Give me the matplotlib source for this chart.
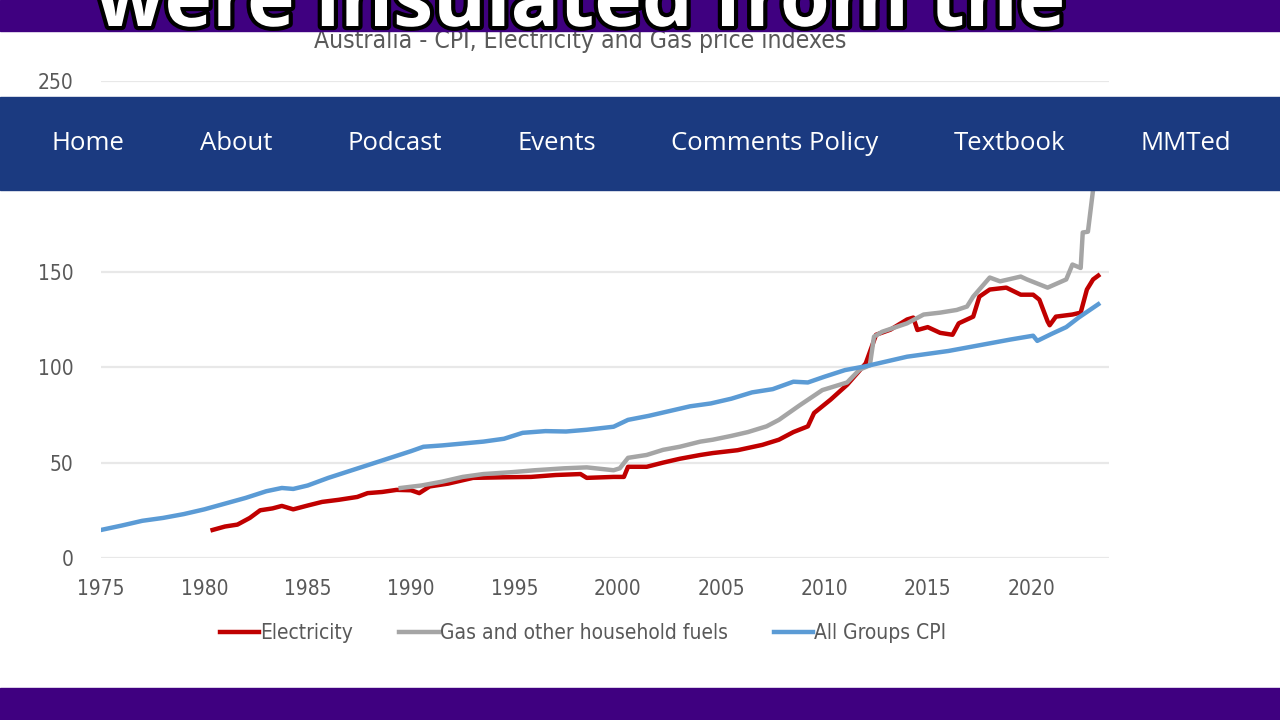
"""
Australia - CPI, Electricity and Gas price indexes (video frame recreation).
"""

import matplotlib
matplotlib.use("Agg")
import matplotlib.pyplot as plt
import matplotlib.patheffects as pe
from matplotlib.patches import Rectangle

# ── Data ────────────────────────────────────────────────────
cpi_years = [1975.0, 1976, 1977, 1978, 1979, 1980, 1981, 1982, 1983, 1983.75,
             1984.3, 1985, 1986, 1987, 1988, 1989, 1990, 1990.6, 1991.5, 1992.5,
             1993.5, 1994.5, 1995.4, 1996.5, 1997.5, 1998.5, 1999.8, 2000.5,
             2001.5, 2002.5, 2003.5, 2004.5, 2005.5, 2006.5, 2007.5, 2008.5,
             2009.2, 2010, 2011, 2012, 2013, 2014, 2015, 2016, 2017, 2018, 2019,
             2020.1, 2020.3, 2021, 2021.7, 2022.3, 2023.25]
cpi_values = [14.7, 17, 19.5, 21, 23, 25.5, 28.5, 31.5, 35, 36.7,
              36.2, 38, 42, 45.5, 49, 52.5, 56, 58.3, 59, 60,
              61, 62.5, 65.6, 66.5, 66.3, 67.2, 68.8, 72.4,
              74.5, 77, 79.5, 81, 83.5, 86.8, 88.5, 92.4,
              92, 95, 98.5, 100.5, 103, 105.5, 107, 108.5, 110.5, 112.5, 114.5,
              116.5, 113.8, 117.5, 121, 126, 133]

elec_years = [1980.4, 1981.0, 1981.6, 1982.2, 1982.7, 1983.3, 1983.75, 1984.3,
              1985, 1985.7, 1986.5, 1987.4, 1987.9, 1988.6, 1989.3, 1990.0,
              1990.4, 1990.9, 1991.8, 1993, 1994.5, 1995.8, 1997, 1998.2, 1998.5,
              1999.8, 2000.3, 2000.5, 2001.4, 2002.2, 2003, 2004, 2004.6, 2005.8,
              2007, 2007.8, 2008.5, 2009.2, 2009.5, 2010.3, 2011.1, 2011.6, 2012.0,
              2012.5, 2013.2, 2014.0, 2014.3, 2014.5, 2015.0, 2015.6, 2016.2,
              2016.5, 2017.2, 2017.5, 2018.0, 2018.8, 2019.5, 2020.1, 2020.4,
              2020.8, 2020.9, 2021.2, 2022.0, 2022.4, 2022.7, 2023.0, 2023.25]
elec_values = [14.7, 16.5, 17.5, 21, 25, 26, 27.3, 25.5,
               27.5, 29.4, 30.5, 32, 34, 34.6, 35.7, 35.5,
               34, 37.5, 39, 42, 42.3, 42.5, 43.5, 44, 42,
               42.5, 42.5, 47.8, 47.8, 50, 52, 54, 55, 56.5,
               59.3, 62, 66, 69, 76, 83, 90.8, 97, 102,
               117, 119.7, 125, 126, 119.5, 121, 118, 117,
               123, 126.5, 137, 140.7, 141.7, 138, 138, 135.4,
               124, 122, 126.5, 127.6, 128.6, 140.7, 146, 148]

gas_years = [1989.5, 1990.5, 1991.5, 1992.5, 1993.5, 1994.9, 1996, 1997.4, 1998.5,
             1999.8, 2000.1, 2000.5, 2001.4, 2002.2, 2003, 2004, 2004.6, 2005.5,
             2006.3, 2007.2, 2007.8, 2008.8, 2009.9, 2011.1, 2011.7, 2012.2,
             2012.4, 2012.8, 2014.0, 2014.8, 2015.6, 2016.4, 2016.9, 2017.2,
             2018.0, 2018.5, 2019.5, 2019.8, 2020.8, 2021.7, 2022.0, 2022.4,
             2022.5, 2022.75, 2023.0, 2023.25]
gas_values = [36.7, 38, 40, 42.5, 44, 45, 46, 47, 47.5,
              46, 47, 52.5, 54, 56.7, 58.3, 61, 62, 64,
              66, 69, 72.4, 80, 88, 92, 98.7, 101,
              116, 118.6, 123, 127.6, 128.6, 130, 131.8, 137,
              147, 145, 147.5, 146, 141.7, 146, 153.8, 152,
              170.6, 171, 193, 215]

x_ticks = [1975, 1980, 1985, 1990, 1995, 2000, 2005, 2010, 2015, 2020]
y_ticks = [0, 50, 100, 150, 200, 250]

nav_items = ["Home", "About", "Podcast", "Events", "Comments Policy", "Textbook", "MMTed"]
nav_x = [88, 236, 395, 557, 775, 1010, 1186]

RED = "#C00000"
GREY = "#A5A5A5"
BLUE = "#5B9BD5"
TEXT = "#595959"
PURPLE = "#3F0080"
NAVY = "#1B3A80"
NARROW = {"family": "DejaVu Sans", "stretch": "condensed"}

W, H = 1280, 720

fig = plt.figure(figsize=(12.8, 7.2), dpi=100)
fig.patch.set_facecolor("white")

# ── Chart ──────────────────────────────────────────────────
ax = fig.add_axes([101 / W, 1 - 558 / H, (1109 - 101) / W, (558 - 81) / H])
ax.plot(elec_years, elec_values, color=RED, lw=3.2, label="Electricity",
        solid_joinstyle="round")
ax.plot(gas_years, gas_values, color=GREY, lw=3.2, label="Gas and other household fuels",
        solid_joinstyle="round")
ax.plot(cpi_years, cpi_values, color=BLUE, lw=3.2, label="All Groups CPI",
        solid_joinstyle="round")

ax.set_xlim(1975, 2023.77)
ax.set_ylim(0, 250)
ax.set_xticks(x_ticks)
ax.set_yticks(y_ticks)
ax.grid(axis="y", color="#E8E8E8", lw=1.6)
ax.set_axisbelow(True)
for s in ax.spines.values():
    s.set_visible(False)
ax.tick_params(length=0, colors=TEXT, labelsize=15)
ax.tick_params(axis="y", pad=20)
ax.tick_params(axis="x", pad=15)
for lab in ax.get_xticklabels() + ax.get_yticklabels():
    lab.set_family(NARROW["family"])
    lab.set_stretch(NARROW["stretch"])

fig.text(580 / W, 1 - 41 / H, "Australia - CPI, Electricity and Gas price indexes",
         ha="center", va="center", color=TEXT, fontsize=17.7, **NARROW)

fig.legend(loc="center", bbox_to_anchor=(583 / W, 1 - 633 / H), ncol=3,
           frameon=False, handlelength=1.9, handletextpad=0.05, columnspacing=2.2,
           prop={"family": NARROW["family"], "stretch": NARROW["stretch"], "size": 15},
           labelcolor=TEXT)

# ── Video overlays ─────────────────────────────────────────
fig.add_artist(Rectangle((0, 1 - 31 / H), 1, 31 / H, transform=fig.transFigure,
                         color=PURPLE, zorder=5))
fig.add_artist(Rectangle((0, 0), 1, 32 / H, transform=fig.transFigure,
                         color=PURPLE, zorder=5))
fig.add_artist(Rectangle((0, 1 - 190 / H), 1, 93 / H, transform=fig.transFigure,
                         color=NAVY, zorder=5))

for label, px in zip(nav_items, nav_x):
    fig.text(px / W, 1 - 144 / H, label, ha="center", va="center", color="white",
             fontsize=18.5, family="Open Sans", zorder=6)

cap = fig.text(580 / W, 1 - 26 / H, "were insulated from the", ha="center",
               va="baseline", color="white", fontsize=58, fontweight="bold",
               family="Open Sans", zorder=6)
cap.set_path_effects([pe.withStroke(linewidth=6, foreground="black")])

fig.savefig("out.png", dpi=100)
